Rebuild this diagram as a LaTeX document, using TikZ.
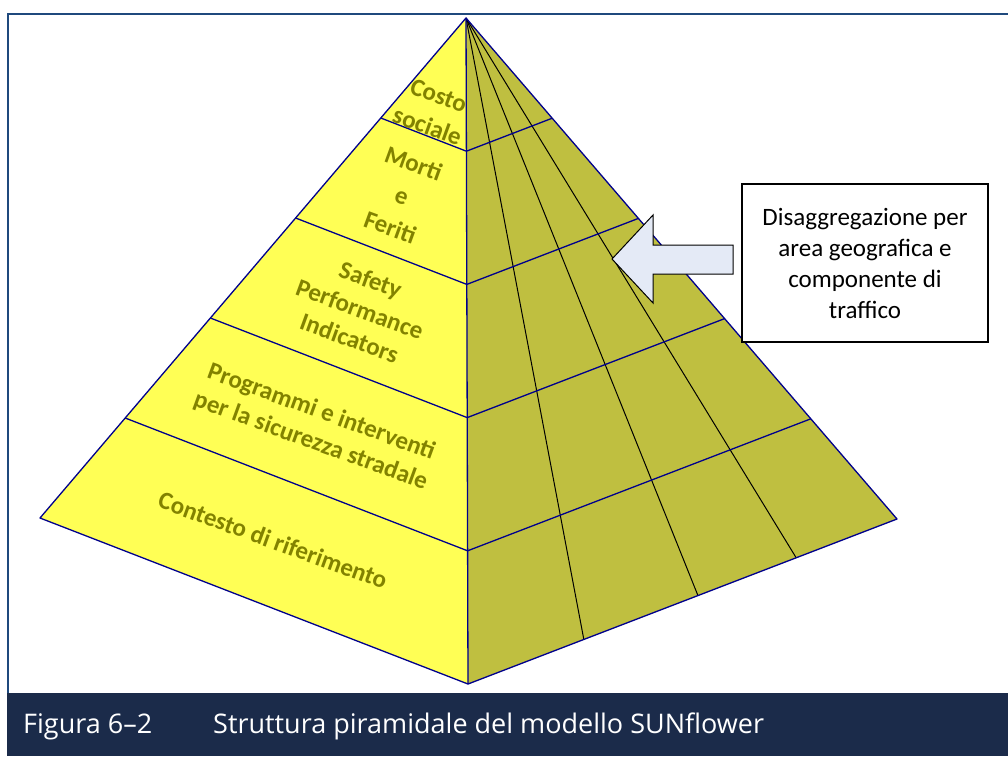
\documentclass[tikz,border=0pt]{standalone}
\usepackage{fontspec}
\setmainfont{Carlito}
\newfontfamily\capfont{Open Sans}
\usetikzlibrary{calc}

\definecolor{frameblue}{RGB}{31,73,125}
\definecolor{bandnavy}{RGB}{27,43,74}
\definecolor{pyrleft}{RGB}{255,255,85}
\definecolor{pyrright}{RGB}{191,191,64}
\definecolor{pyredge}{RGB}{0,0,140}
\definecolor{pyrtext}{RGB}{130,130,0}
\definecolor{arrowfill}{RGB}{228,234,246}

\tikzset{
  pyredgeline/.style={draw=pyredge, line width=1.3pt, line join=round},
  splitline/.style={draw=black, line width=1pt},
  levellabel/.style={text=pyrtext, font=\bfseries\fontsize{25}{31}\selectfont,
    align=center, rotate=-20, inner sep=0pt},
  notebox/.style={draw=black, line width=1.2pt, fill=white, align=center,
    minimum width=246, minimum height=158, font=\fontsize{25}{31}\selectfont},
  captext/.style={anchor=base west, text=white, inner sep=0pt,
    font=\capfont\fontsize{27}{30}\selectfont},
}

\begin{document}
\begin{tikzpicture}[x=1pt, y=-1pt]
\useasboundingbox (0,0) rectangle (1008,756);
% frame and caption band
\fill[bandnavy] (7,693) rectangle (1008,756);
\draw[frameblue, line width=2pt] (8,693) -- (8,14) -- (1008,14);
\node[captext] (fignum) at (23,733) {Figura 6–2};
\node[captext] (figtitle) at (213,733) {Struttura piramidale del modello SUNflower};

% pyramid corners
\coordinate (apex) at (466,18);
\coordinate (left) at (40,518);
\coordinate (front) at (468,684);
\coordinate (right) at (897,519);

% faces
\fill[pyrleft] (apex) -- (left) -- (front) -- cycle;
\fill[pyrright] (apex) -- (front) -- (right) -- cycle;

% sectors on the right face
\foreach \s in {0.27,0.536,0.765}
  \draw[splitline] (apex) -- ($(front)!\s!(right)$);

% levels
\foreach \t in {0.2,0.4,0.6,0.8}
  \draw[pyredgeline] ($(apex)!\t!(left)$) -- ($(apex)!\t!(front)$) -- ($(apex)!\t!(right)$);

\draw[pyredgeline] (apex) -- (left) -- (front) -- (right) -- cycle;
\draw[pyredgeline] (apex) -- (front);

% level names
\node[levellabel, font=\bfseries\fontsize{25}{33}\selectfont] (costo) at (433,111) {Costo\\sociale};
\node[levellabel, font=\bfseries\fontsize{25}{34}\selectfont] (morti) at (402,195) {Morti\\e\\Feriti};
\node[levellabel] (spi) at (360,309) {Safety\\Performance\\Indicators};
\node[levellabel] (programmi) at (316,427) {Programmi e interventi\\per la sicurezza stradale};
\node[levellabel] (contesto) at (273,540) {Contesto di riferimento};

% disaggregation note
\draw[black, line width=1pt, fill=arrowfill, line join=miter]
  (733,245) -- (653,245) -- (653,215) -- (612,259) -- (653,303) -- (653,274) -- (733,274) -- cycle;
\node[notebox] (note) at (865,263) {Disaggregazione per\\area geografica e\\componente di\\traffico};

\end{tikzpicture}
\end{document}
